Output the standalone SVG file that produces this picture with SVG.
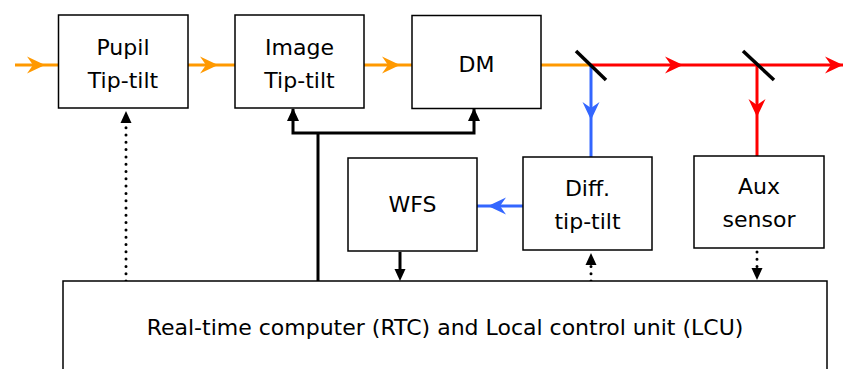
<svg xmlns="http://www.w3.org/2000/svg" width="843" height="369" viewBox="0 0 843 369">
<style>
.box{fill:#fff;stroke:#000;stroke-width:1.5}
.t{font-family:"DejaVu Sans","Noto Sans",sans-serif;font-size:22px;fill:#000;text-anchor:middle}
.o{fill:none;stroke:#FF9900;stroke-width:3}
.r{fill:none;stroke:#FF0000;stroke-width:3}
.b{fill:none;stroke:#3366FF;stroke-width:3}
.k{fill:none;stroke:#000;stroke-width:3}
.d{fill:none;stroke:#000;stroke-width:3;stroke-dasharray:0 7.3;stroke-linecap:round}
.m{stroke:#000;stroke-width:3.5}
</style>
<defs>
<marker id="ao" markerUnits="userSpaceOnUse" markerWidth="20" markerHeight="20" viewBox="-18 -10 20 20" refX="0" refY="0" orient="auto"><path d="M0,0 L-18,-8.5 L-12,0 L-18,8.5 Z" fill="#FF9900"/></marker>
<marker id="ar" markerUnits="userSpaceOnUse" markerWidth="20" markerHeight="20" viewBox="-18 -10 20 20" refX="0" refY="0" orient="auto"><path d="M0,0 L-18,-8.5 L-12,0 L-18,8.5 Z" fill="#FF0000"/></marker>
<marker id="ab" markerUnits="userSpaceOnUse" markerWidth="20" markerHeight="20" viewBox="-18 -10 20 20" refX="0" refY="0" orient="auto"><path d="M0,0 L-18,-8.5 L-12,0 L-18,8.5 Z" fill="#3366FF"/></marker>
</defs>
<g id="connectors">
<polyline class="o" points="15,65 45,65 58,65" marker-mid="url(#ao)"/>
<polyline class="o" points="188,65 218,65 235,65" marker-mid="url(#ao)"/>
<polyline class="o" points="364,65 400,65 412,65" marker-mid="url(#ao)"/>
<line class="o" x1="541" y1="65" x2="591" y2="65"/>
<polyline class="r" points="591,65 683,65 757,65" marker-mid="url(#ar)"/>
<line class="r" x1="757" y1="65" x2="843" y2="65" marker-end="url(#ar)"/>
<polyline class="b" points="591,65 591,120 591,157" marker-mid="url(#ab)"/>
<polyline class="r" points="757,65 757,117 757,156" marker-mid="url(#ar)"/>
<polyline class="b" points="523,206 488,206 477,206" marker-mid="url(#ab)"/>
<line class="m" x1="576" y1="51" x2="606" y2="80"/>
<line class="m" x1="743" y1="51" x2="774" y2="80"/>
<polyline class="k" points="318,281 318,133"/>
<polyline class="k" points="293,109 293,133 474,133 474,109"/>
<path d="M293,108 L287,121 L299,121 Z M474,108 L468,121 L480,121 Z"/>
<line class="k" x1="400" y1="252" x2="400" y2="270"/>
<path d="M400,281 L394.5,269 L405.5,269 Z"/>
<line class="d" x1="126" y1="281" x2="126" y2="124"/>
<path d="M126,111 L120.5,123 L131.5,123 Z"/>
<line class="d" x1="591" y1="281" x2="591" y2="266"/>
<path d="M591,253 L585.5,265 L596.5,265 Z"/>
<line class="d" x1="757" y1="252" x2="757" y2="267"/>
<path d="M757,280 L751.5,268 L762.5,268 Z"/>
</g>
<g id="pupil"><rect class="box" x="58.5" y="15" width="129.5" height="93"/><text class="t" x="123" y="55">Pupil</text><text class="t" x="123" y="88">Tip-tilt</text></g>
<g id="image"><rect class="box" x="235" y="15" width="129" height="93"/><text class="t" x="299.5" y="55">Image</text><text class="t" x="299.5" y="88">Tip-tilt</text></g>
<g id="dm"><rect class="box" x="412" y="15.5" width="129" height="93"/><text class="t" x="476.5" y="72">DM</text></g>
<g id="wfs"><rect class="box" x="348" y="158" width="129" height="93"/><text class="t" x="412.5" y="212">WFS</text></g>
<g id="diff"><rect class="box" x="523" y="157" width="129" height="93"/><text class="t" x="587.5" y="196">Diff.</text><text class="t" x="587.5" y="229">tip-tilt</text></g>
<g id="aux"><rect class="box" x="694" y="156" width="130" height="92"/><text class="t" x="759" y="194">Aux</text><text class="t" x="759" y="227">sensor</text></g>
<g id="rtc"><rect class="box" x="63" y="281" width="764" height="100"/><text class="t" x="445" y="335">Real-time computer (RTC) and Local control unit (LCU)</text></g>
</svg>
